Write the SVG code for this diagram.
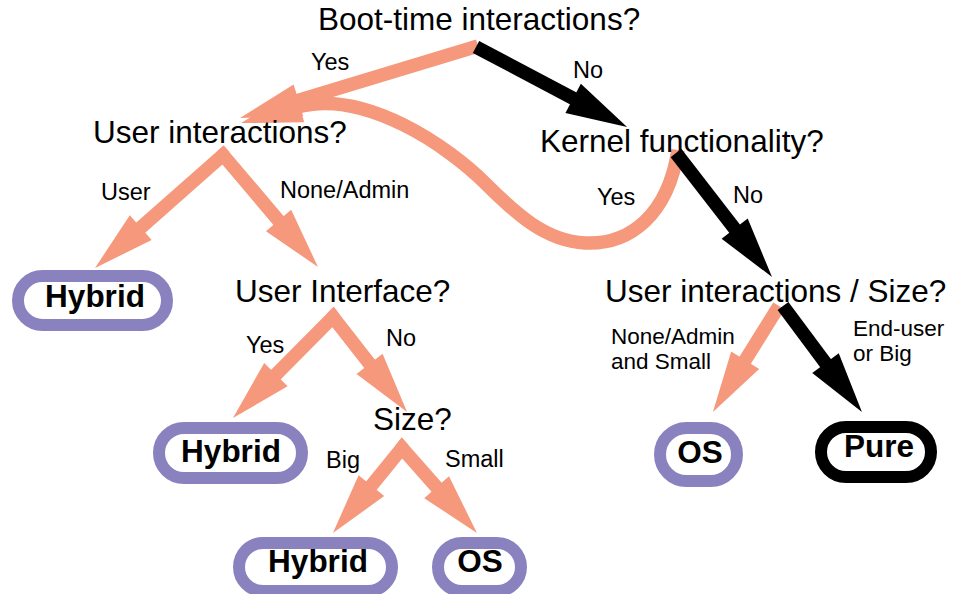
<svg xmlns="http://www.w3.org/2000/svg" width="953" height="594" viewBox="0 0 953 594">
  <style>
    .q { font-family: "Liberation Sans", Arial, Helvetica, sans-serif; font-size: 31.5px; fill: #000; }
    .lbl { font-family: "Liberation Sans", Arial, Helvetica, sans-serif; font-size: 23.5px; fill: #000; }
    .lbl2 { font-family: "Liberation Sans", Arial, Helvetica, sans-serif; font-size: 22.5px; fill: #000; }
    .leaf { font-family: "Liberation Sans", Arial, Helvetica, sans-serif; font-size: 31.5px; font-weight: bold; fill: #000; }
    .pill { fill: #fff; stroke: #8982BF; stroke-width: 12; }
    .pill.pure { stroke: #000; }
    .yes { fill: none; stroke: #F5987C; stroke-width: 13.5; stroke-linejoin: miter; stroke-linecap: butt; marker-end: url(#headS); }
    .no { fill: none; stroke: #000; stroke-width: 13.5; stroke-linejoin: miter; stroke-linecap: butt; marker-end: url(#headK); }
  </style>
  <defs>
    <marker id="headS" markerUnits="userSpaceOnUse" markerWidth="64" markerHeight="34" viewBox="0 -17 64 34" refX="3" refY="0" orient="auto" overflow="visible">
      <path d="M0,-16.5 L61,0 L0,16.5 z" fill="#F5987C"/>
    </marker>
    <marker id="headK" markerUnits="userSpaceOnUse" markerWidth="64" markerHeight="34" viewBox="0 -17 64 34" refX="3" refY="0" orient="auto" overflow="visible">
      <path d="M0,-16.5 L61,0 L0,16.5 z" fill="#000"/>
    </marker>
  </defs>
  <rect width="953" height="594" fill="#fff"/>

  <!-- connectors -->
  <g id="connectors">
    <path id="c-kernel-yes" class="yes" d="M678,150 C668,215 630,245 585,243 C545,241 515,213 485,183 C450,148 365,88 296.8,107.3"/>
    <path id="c-boot-yes" class="yes" d="M478,46 L295.5,101.2"/>
    <path id="c-boot-no" class="no" d="M476,47 L575.8,99.8"/>
    <path id="c-kernel-no" class="no" d="M676,153 L736.5,231.1"/>
    <path id="c-user-user" class="yes" d="M224.3,156.5 L223,155 L138.5,229.6"/>
    <path id="c-user-none" class="yes" d="M221.5,156.3 L223,155 L280.5,222.8"/>
    <path id="c-ui-yes" class="yes" d="M334.2,318.6 L333,317 L273.8,376.8"/>
    <path id="c-ui-no" class="yes" d="M331.6,318.4 L333,317 L371.4,366.2"/>
    <path id="c-size-big" class="yes" d="M403.3,449.5 L402,448 L369.5,488"/>
    <path id="c-size-small" class="yes" d="M400.7,449.6 L402,448 L438.6,489.5"/>
    <path id="c-uis-small" class="yes" d="M779,306 L743.6,362.8"/>
    <path id="c-uis-big" class="no" d="M783,306 L827.3,365.5"/>
  </g>

  <!-- edge labels -->
  <g id="edge-labels">
    <text class="lbl" x="311" y="70">Yes</text>
    <text class="lbl" x="573" y="78">No</text>
    <text class="lbl" x="101" y="200">User</text>
    <text class="lbl" x="280" y="198">None/Admin</text>
    <text class="lbl" x="597" y="205">Yes</text>
    <text class="lbl" x="733" y="203">No</text>
    <text class="lbl" x="246" y="353">Yes</text>
    <text class="lbl" x="386" y="346">No</text>
    <text class="lbl" x="326" y="468">Big</text>
    <text class="lbl" x="445" y="467">Small</text>
    <text class="lbl2" x="611" y="344">None/Admin</text>
    <text class="lbl2" x="611" y="369">and Small</text>
    <text class="lbl2" x="853" y="336">End-user</text>
    <text class="lbl2" x="853" y="361">or Big</text>
  </g>

  <!-- question nodes -->
  <g id="q-boot"><text class="q" x="318" y="30">Boot-time interactions?</text></g>
  <g id="q-user"><text class="q" x="93" y="143">User interactions?</text></g>
  <g id="q-kernel"><text class="q" x="540" y="152">Kernel functionality?</text></g>
  <g id="q-ui"><text class="q" x="235" y="302">User Interface?</text></g>
  <g id="q-uis"><text class="q" x="605" y="302">User interactions / Size?</text></g>
  <g id="q-size"><text class="q" x="373" y="430">Size?</text></g>

  <!-- outcome nodes -->
  <g id="hybrid-1">
    <rect class="pill" x="18" y="276" width="149" height="49" rx="24.5"/>
    <text class="leaf" x="95" y="307" text-anchor="middle">Hybrid</text>
  </g>
  <g id="hybrid-2">
    <rect class="pill" x="159" y="428" width="143" height="50" rx="25"/>
    <text class="leaf" x="231" y="462" text-anchor="middle">Hybrid</text>
  </g>
  <g id="hybrid-3">
    <rect class="pill" x="239" y="543" width="153" height="48" rx="24"/>
    <text class="leaf" x="318" y="572" text-anchor="middle">Hybrid</text>
  </g>
  <g id="os-1">
    <rect class="pill" x="438" y="543" width="83" height="48" rx="24"/>
    <text class="leaf" x="480" y="572" text-anchor="middle">OS</text>
  </g>
  <g id="os-2">
    <rect class="pill" x="660" y="428" width="77" height="53" rx="26.5"/>
    <text class="leaf" x="700" y="463" text-anchor="middle">OS</text>
  </g>
  <g id="pure">
    <rect class="pill pure" x="821" y="427" width="110" height="50" rx="25"/>
    <text class="leaf" x="879" y="457" text-anchor="middle">Pure</text>
  </g>
</svg>
